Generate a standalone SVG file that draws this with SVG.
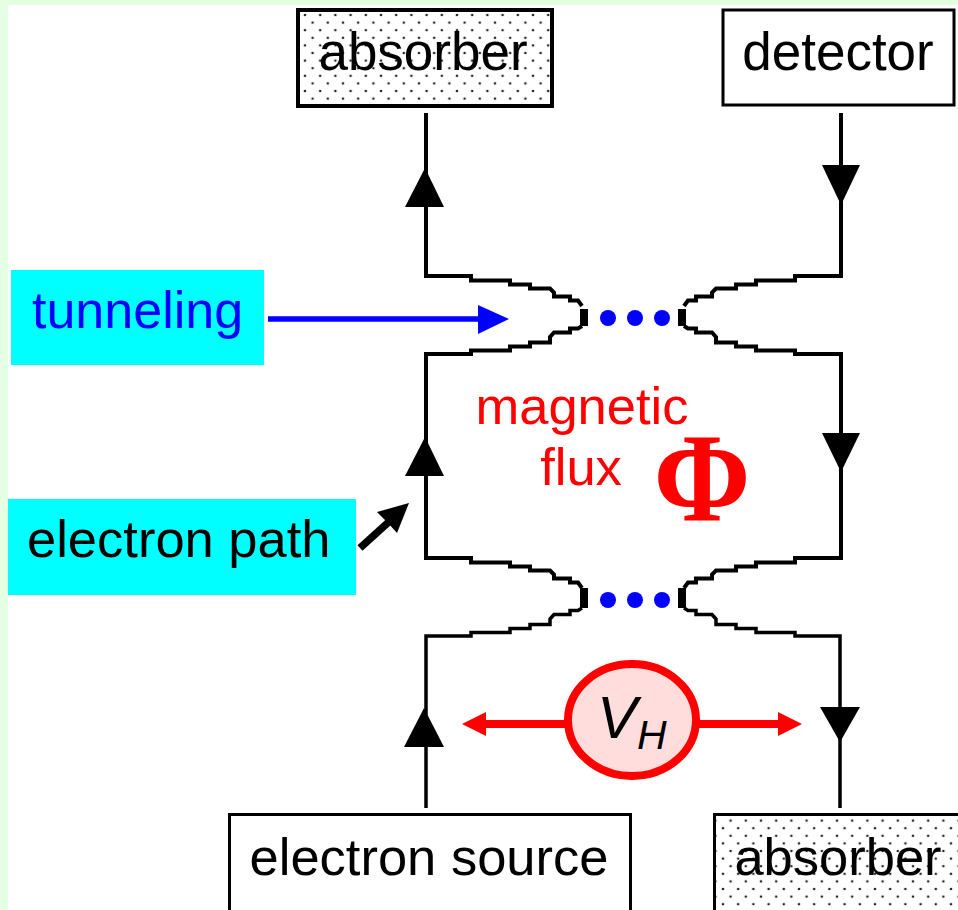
<svg xmlns="http://www.w3.org/2000/svg" width="958" height="910" viewBox="0 0 958 910">
<style>
text{font-family:"Liberation Sans",Arial,sans-serif;font-size:52.500px;fill:#000}
.c{text-anchor:middle}
.box{stroke:#000;stroke-width:4;fill:#fff}
.dot{fill:url(#dots)}
.wire{fill:none;stroke:#000;stroke-width:4;stroke-linejoin:miter}
.thin{stroke-width:3.5}
.red{fill:#f00}
.redline{stroke:#f00;stroke-width:8;fill:none}
</style>
<defs>
<pattern id="dots" width="15.2" height="15.2" patternUnits="userSpaceOnUse" x="305" y="15">
<circle cx="0" cy="0" r="1.300" fill="#222"/><circle cx="15.200" cy="0" r="1.300" fill="#222"/><circle cx="0" cy="15.200" r="1.300" fill="#222"/><circle cx="15.200" cy="15.200" r="1.300" fill="#222"/><circle cx="7.600" cy="7.600" r="1.300" fill="#222"/>
</pattern>
</defs>
<rect width="958" height="910" fill="#fff"/>
<rect width="958" height="5" fill="#e4ffe4"/>
<rect width="8" height="910" fill="#e4ffe4"/>
<g id="connectors">
<g class="wire">
<path d="M426 113V276H471V280.500H510V284.500H530V288.500H550L554 292.500V296.500H570V300.500H578L582 306"/>
<path d="M582 326L578 328.500H570V332.500H554L550 337V342.500H530V346.500H510V350.500H471V354H426V558H471V562.500H510V566.500H530V570.500H550L554 574.500V578.500H570V582.500H578L582 588"/>
<path class="thin" d="M582 608L578 610.500H570V614.500H554L550 619V624.500H530V628.500H510V632.500H471V636H426V808"/>
<path d="M841 113V276H795V280.500H756V284.500H736V288.500H716L712 292.500V296.500H696V300.500H688L684 306"/>
<path d="M684 326L688 328.500H696V332.500H712L716 337V342.500H736V346.500H756V350.500H795V354H841V558H795V562.500H756V566.500H736V570.500H716L712 574.500V578.500H696V582.500H688L684 588"/>
<path class="thin" d="M684 608L688 610.500H696V614.500H712L716 619V624.500H736V628.500H756V632.500H795V636H840V808"/>
</g>
<g fill="#000">
<rect x="580" y="309" width="8" height="17"/><rect x="678" y="309" width="8" height="17"/>
<rect x="580" y="588" width="8" height="20"/><rect x="678" y="588" width="8" height="20"/>
<path d="M425 168L444 207H405Z"/>
<path d="M841 205L860 165H822Z"/>
<path d="M425 437L444 476H405Z"/>
<path d="M841 472L860 433H822Z"/>
<path d="M424 708L444 747H404Z"/>
<path d="M840 742L860 707H820Z"/>
<path d="M409 503L397 533L388 523L377 512Z"/>
</g>
<path d="M360 548L392 519" stroke="#000" stroke-width="7.500" fill="none"/>
<path d="M268 319H482" stroke="#00f" stroke-width="5.500" fill="none"/>
<path d="M478 305L509 319L478 334Z" fill="#00f"/>
<g fill="#00f">
<circle cx="608" cy="318" r="8"/><circle cx="635" cy="318" r="8"/><circle cx="662" cy="318" r="8"/>
<circle cx="608" cy="600" r="8"/><circle cx="635" cy="600" r="8"/><circle cx="662" cy="600" r="8"/>
</g>
<path class="redline" d="M484 724H568M696 724H780"/>
<path class="red" d="M462 724L486 712V736Z"/>
<path class="red" d="M802 724L778 712V736Z"/>
</g>
<g id="absorber-top">
<rect class="box" x="298" y="10" width="254" height="96"/><rect class="dot" x="300" y="12" width="250" height="92"/>
<text class="c" x="423" y="70" style="font-size:53px">absorber</text>
</g>
<g id="detector">
<rect class="box" x="723" y="10" width="231" height="95" style="stroke-width:3"/>
<text class="c" x="838" y="70" style="font-size:53px">detector</text>
</g>
<g id="tunneling">
<rect x="11" y="270" width="253" height="95" fill="#0ff"/>
<text x="32" y="328" style="fill:#00f;font-size:52px">tunneling</text>
</g>
<g id="electron-path">
<rect x="8" y="499" width="348" height="96" fill="#0ff"/>
<text x="27" y="557">electron path</text>
</g>
<g id="flux">
<text class="c" x="582" y="424" style="fill:#f00">magnetic</text>
<text class="c" x="581" y="485" style="fill:#f00">flux</text>
<text class="c" transform="translate(702 521) scale(.91 1)" style="fill:#f00;font-family:'Liberation Serif',serif;font-weight:bold;font-size:128px">Φ</text>
</g>
<g id="vh">
<ellipse cx="632" cy="720" rx="64" ry="56" fill="#ffdddd" stroke="#f00" stroke-width="8"/>
<text x="597" y="738" style="font-style:italic;font-size:60px">V</text>
<text x="637" y="749" style="font-style:italic;font-size:41px">H</text>
</g>
<g id="electron-source">
<rect class="box" x="229.500" y="814.500" width="401" height="97" style="stroke-width:3"/>
<text class="c" x="429" y="875">electron source</text>
</g>
<g id="absorber-bottom">
<rect class="box" x="714.500" y="814.500" width="246" height="97" style="stroke-width:3"/><rect class="dot" x="716" y="816" width="242" height="94"/>
<text class="c" x="838" y="875">absorber</text>
</g>
</svg>
